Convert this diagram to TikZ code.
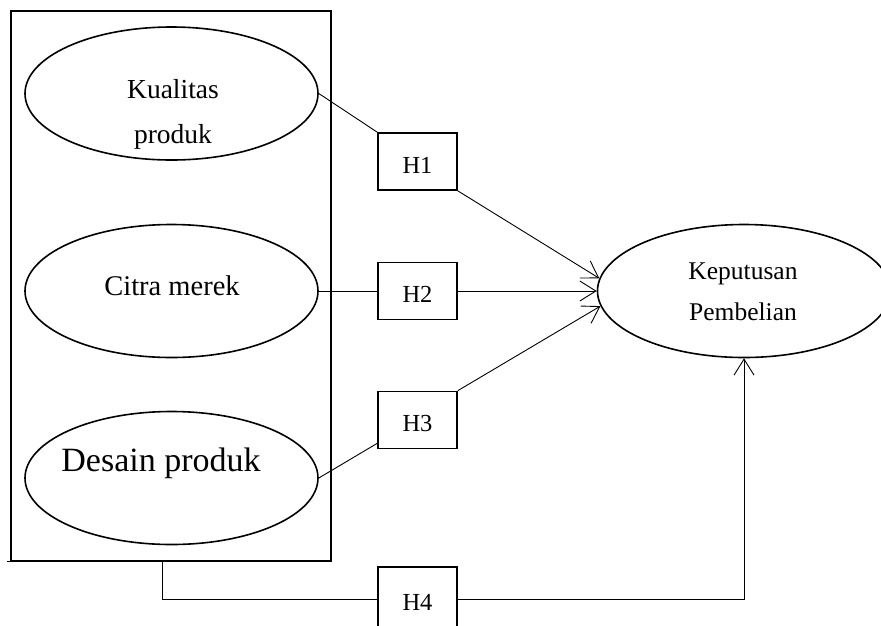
\documentclass[tikz,border=0pt]{standalone}
\usepackage{fontspec}
\setmainfont{Liberation Serif}
\usetikzlibrary{arrows.meta,shapes.geometric}
\begin{document}
\begin{tikzpicture}[x=1pt,y=-1pt,
  var/.style={draw, ellipse, line width=1.6pt, minimum width=293pt, minimum height=133pt, inner sep=0pt},
  hbox/.style={draw, fill=white, line width=1.8pt, minimum width=79pt, minimum height=57pt, inner sep=0pt,
    text height=23pt, text depth=0pt, font=\fontsize{24.5}{28}\selectfont},
  conn/.style={line width=0.9pt},
  arr/.style={conn, -{Straight Barb[length=16pt,width=20pt,line width=0.9pt]}},
  lbl/.style={inner sep=0pt, anchor=base, font=\fontsize{27.5}{31}\selectfont}
]
\useasboundingbox (0,0) rectangle (881,625);
\begin{scope}
\clip (0,0) rectangle (881,625);

% group frame
\node[draw, line width=1.3pt, minimum width=320pt, minimum height=550pt, inner sep=0pt] (grp) at (171,286) {};
\coordinate (gx) at ([xshift=-3pt]grp.south west);
\draw[line width=1.3pt] (grp.south west) -- (gx);

% variables
\node[var] (kp) at (171.5,93.5) {};
\node[var] (cm) at (171.5,291) {};
\node[var] (dp) at (171.5,478) {};
\node[var] (kpb) at (744,291) {};

\node[lbl] (t1) at (173,98) {Kualitas};
\node[lbl] (t2) at (173,143) {produk};
\node[lbl, font=\fontsize{28.5}{32}\selectfont] (t3) at (172,295) {Citra merek};
\node[lbl, font=\fontsize{34}{38}\selectfont] (t4) at (161,471) {Desain produk};
\node[lbl, font=\fontsize{25.5}{29}\selectfont] (t5) at (743,279) {Keputusan};
\node[lbl, font=\fontsize{25.5}{29}\selectfont] (t6) at (743,320) {Pembelian};

% hypothesis boxes
\node[hbox] (h1) at (417.5,161.5) {H1};
\node[hbox] (h2) at (417.5,291) {H2};
\node[hbox] (h3) at (417.5,420) {H3};
\node[hbox, minimum height=64pt] (h4) at (417.5,599) {H4};

% connectors
\draw[conn] (kp.east) -- (h1.north west);
\draw[arr] (h1.south east) -- (kpb.175);
\draw[conn] (cm.east) -- (h2.west);
\draw[arr] (h2.east) -- (kpb.west);
\draw[conn] (dp.east) -- ([yshift=6pt]h3.south west);
\draw[arr] (h3.north east) -- (kpb.186);
\coordinate (g4) at ([xshift=-9pt]grp.south);
\draw[conn] (g4) |- (h4.west);
\draw[arr] (h4.east) -| (kpb.south);
\end{scope}
\end{tikzpicture}
\end{document}
